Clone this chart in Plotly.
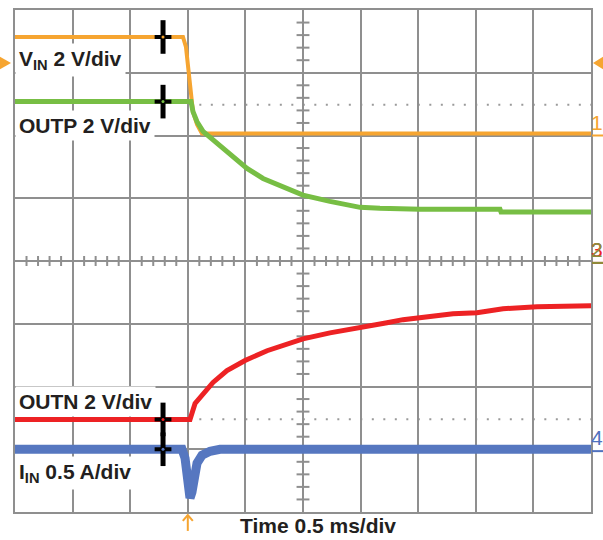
import numpy as np
import plotly.graph_objects as go

# scope time base: 0.5 ms/div, 10 divisions, trigger at 1.5 ms
t_vin = [0.0, 1.458, 1.484, 1.502, 1.519, 1.545, 1.580, 1.623, 5.0]
vin = [3.08, 3.08, 2.76, 2.19, 1.43, 0.70, 0.29, 0.0, 0.0]

t_outp = [0.0, 1.528, 1.545, 1.580, 1.632, 1.719, 1.866, 2.014, 2.153,
          2.300, 2.500, 2.734, 2.995, 3.168, 3.516, 4.210, 4.219, 5.0]
outp = [5.08, 5.08, 4.76, 4.44, 4.13, 3.87, 3.40, 2.95, 2.63,
        2.41, 2.10, 1.90, 1.71, 1.68, 1.65, 1.65, 1.56, 1.56]

t_outn = [0.0, 1.519, 1.563, 1.632, 1.719, 1.840, 1.997, 2.188, 2.300, 2.500,
          2.734, 2.995, 3.229, 3.368, 3.663, 3.802, 4.010, 4.236, 4.531, 5.0]
outn = [-5.05, -5.05, -4.54, -4.22, -3.87, -3.49, -3.17, -2.86, -2.73, -2.48,
        -2.29, -2.10, -1.97, -1.87, -1.75, -1.68, -1.65, -1.52, -1.46, -1.43]

t_iin = [0.0, 1.450, 1.476, 1.493, 1.510, 1.519, 1.536, 1.554, 1.580,
         1.623, 1.693, 1.780, 5.0]
iin = [0.0, 0.0, -0.071, -0.206, -0.341, -0.389, -0.341, -0.230, -0.111,
       -0.048, -0.016, 0.0, 0.0]

# channel setup: (label, units/div, ground offset in div, colour, tag, t, v, width)
channels = [
    ("V<sub>IN</sub> 2 V/div", 2.0, 2.03, "#F6A531", "1", t_vin, vin, 4),
    ("OUTP 2 V/div", 2.0, 0.0, "#77BE44", "2", t_outp, outp, 5),
    ("OUTN 2 V/div", 2.0, 0.0, "#ED2224", "3", t_outn, outn, 5),
    ("I<sub>IN</sub> 0.5 A/div", 0.5, -3.0, "#5677C0", "4", t_iin, iin, 9),
]
label_y = [58, 124, 401, 473]  # pixel rows of the channel captions
cursor_t = 1.285
trig_t = 1.5
trig_level = 2.25  # V on channel 1
ref_levels = [2.49, -2.52]  # dotted reference rows, div
ref_start = 1.6

grid = "#8f8f8f"
W, H = 603, 540
L, R, T, B = 15, 12, 8, 28
pw, ph = W - L - R, H - T - B


def px2paper_y(py):
    return (H - B - py) / ph


fig = go.Figure()

for name, scale, off, col, tag, tt, vv, lw in channels:
    y = off + np.array(vv) / scale
    fig.add_trace(go.Scatter(x=tt, y=y, mode="lines",
                             line=dict(color=col, width=lw), hoverinfo="skip"))

# cursors
for name, scale, off, col, tag, tt, vv, lw in channels:
    yc = off + np.interp(cursor_t, tt, vv) / scale
    fig.add_trace(go.Scatter(x=[cursor_t], y=[yc], mode="markers",
                             marker=dict(symbol="line-ns", size=24,
                                         line=dict(color="black", width=5))))
    fig.add_trace(go.Scatter(x=[cursor_t], y=[yc], mode="markers",
                             marker=dict(symbol="line-ew", size=12,
                                         line=dict(color="black", width=4))))
    fig.add_trace(go.Scatter(x=[cursor_t], y=[yc], mode="markers",
                             marker=dict(symbol="circle", size=3, color=col)))

shapes = []
# graticule ticks on the centre lines
for k in range(1, 50):
    if k % 5:
        shapes.append(dict(type="line", x0=k * 0.1, x1=k * 0.1, y0=-0.08, y1=0.08,
                           line=dict(color=grid, width=2), layer="below"))
for k in range(-19, 20):
    if k % 5:
        shapes.append(dict(type="line", x0=2.444, x1=2.556, y0=k * 0.2, y1=k * 0.2,
                           line=dict(color=grid, width=2), layer="below"))
# dotted reference rows
for lvl in ref_levels:
    shapes.append(dict(type="line", x0=ref_start, x1=5, y0=lvl, y1=lvl,
                       line=dict(color="#9a9a9a", width=2, dash="2px,9.5px"),
                       layer="below"))

# trigger level arrows (left and right)
yt = channels[0][2] + trig_level / channels[0][1]
shapes.append(dict(type="path", xref="paper", yref="y",
                   path=f"M {-15/pw},{yt+0.1} L {-4/pw},{yt} L {-15/pw},{yt-0.1} Z",
                   fillcolor="#F6A531", line=dict(width=0)))
shapes.append(dict(type="path", xref="paper", yref="y",
                   path=f"M {1+12/pw},{yt+0.1} L {1+2/pw},{yt} L {1+12/pw},{yt-0.1} Z",
                   fillcolor="#F6A531", line=dict(width=0)))
# trigger position arrow under the graticule
ya, yb = px2paper_y(515), px2paper_y(531)
dx = 5 / pw * 5
shapes.append(dict(type="line", xref="x", yref="paper", x0=trig_t, x1=trig_t,
                   y0=yb, y1=ya, line=dict(color="#F6A531", width=2)))
shapes.append(dict(type="path", xref="x", yref="paper",
                   path=f"M {trig_t-dx},{px2paper_y(521)} L {trig_t},{ya} L {trig_t+dx},{px2paper_y(521)}",
                   line=dict(color="#F6A531", width=2)))

annotations = []
# ground markers at right
tag_cols = {"1": "#F6A531", "2": "#8A8F3A", "3": "#ED2224", "4": "#5072BE"}
for name, scale, off, col, tag, tt, vv, lw in sorted(channels, key=lambda c: c[4] == "2"):
    shapes.append(dict(type="line", xref="paper", yref="y", x0=1 + 1 / pw, x1=1 + 12 / pw,
                       y0=off - 0.03, y1=off - 0.03,
                       line=dict(color=tag_cols[tag], width=2)))
    annotations.append(dict(text=tag, xref="paper", yref="y", x=1 + 6 / pw, y=off,
                            xanchor="center", yanchor="bottom", showarrow=False,
                            borderpad=0, yshift=-1,
                            font=dict(family="Liberation Sans Narrow, Liberation Sans",
                                      size=21, color=tag_cols[tag])))

for (name, *_), py in zip(channels, label_y):
    annotations.append(dict(text=f"<b>{name}</b>", xref="paper", yref="paper",
                            x=0, y=px2paper_y(py), xanchor="left", yanchor="middle",
                            showarrow=False, bgcolor="white", borderpad=3,
                            font=dict(family="Liberation Sans", size=21,
                                      color="#231F20")))

annotations.append(dict(text="<b>Time 0.5 ms/div</b>", xref="paper", yref="paper",
                        x=(318 - L) / pw, y=px2paper_y(526), xanchor="center",
                        yanchor="middle", showarrow=False,
                        font=dict(family="Liberation Sans", size=21, color="#231F20")))

fig.update_layout(
    width=W, height=H,
    margin=dict(l=L, r=R, t=T, b=B),
    paper_bgcolor="white", plot_bgcolor="white",
    showlegend=False,
    shapes=shapes, annotations=annotations,
)
fig.update_xaxes(range=[0, 5], dtick=0.5, tick0=0, showgrid=True, gridcolor=grid,
                 gridwidth=2, zeroline=False, showticklabels=False, ticks="",
                 showline=True, mirror=True, linecolor=grid, linewidth=2)
fig.update_yaxes(range=[-4, 4], dtick=1, tick0=0, showgrid=True, gridcolor=grid,
                 gridwidth=2, zeroline=False, showticklabels=False, ticks="",
                 showline=True, mirror=True, linecolor=grid, linewidth=2)

fig.write_html("out.html", config={"displayModeBar": False},
               post_script="document.body.style.margin='0';document.body.style.padding='0';")
